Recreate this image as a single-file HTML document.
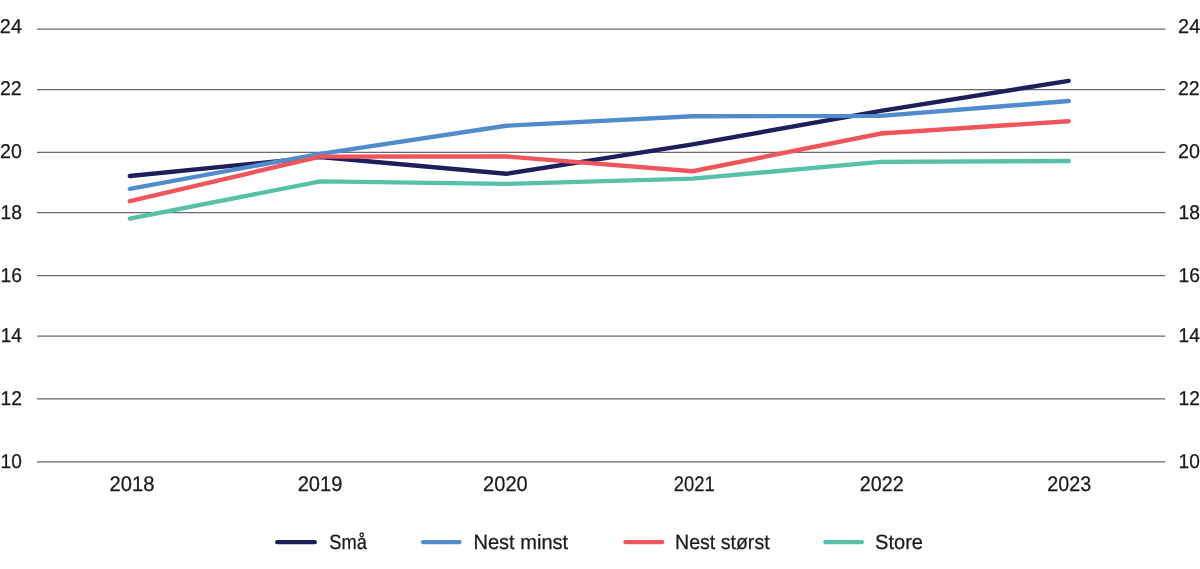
<!DOCTYPE html>
<html><head><meta charset="utf-8"><style>
html,body{margin:0;padding:0;background:#fff;width:1200px;height:569px;overflow:hidden}
svg{display:block;will-change:transform}
text{font-family:"Liberation Sans",sans-serif;fill:#1a1a1a;stroke:#1a1a1a;stroke-width:0.25px;text-rendering:geometricPrecision}
</style></head><body>
<svg width="1200" height="569" viewBox="0 0 1200 569">
<rect width="1200" height="569" fill="#fff"/>
<line x1="37" y1="29.06" x2="1165.3" y2="29.06" stroke="#6a6a6a" stroke-width="1.25"/>
<line x1="37" y1="89.5" x2="1165.3" y2="89.5" stroke="#6a6a6a" stroke-width="1.25"/>
<line x1="37" y1="152.3" x2="1165.3" y2="152.3" stroke="#6a6a6a" stroke-width="1.25"/>
<line x1="37" y1="212.65" x2="1165.3" y2="212.65" stroke="#6a6a6a" stroke-width="1.25"/>
<line x1="37" y1="275.5" x2="1165.3" y2="275.5" stroke="#6a6a6a" stroke-width="1.25"/>
<line x1="37" y1="336.2" x2="1165.3" y2="336.2" stroke="#6a6a6a" stroke-width="1.25"/>
<line x1="37" y1="398.8" x2="1165.3" y2="398.8" stroke="#6a6a6a" stroke-width="1.25"/>
<line x1="37" y1="461.95" x2="1165.3" y2="461.95" stroke="#6a6a6a" stroke-width="1.25"/>
<polyline points="129.80,176.00 320.20,157.00 506.20,173.80 692.70,144.40 880.90,110.80 1068.70,80.90" fill="none" stroke="#1e1e5a" stroke-width="4.4" stroke-linecap="round" stroke-linejoin="miter" stroke-miterlimit="10"/>
<polyline points="129.80,188.90 320.20,153.80 506.20,125.70 692.70,116.20 880.90,115.90 1068.70,101.00" fill="none" stroke="#508ccb" stroke-width="4.4" stroke-linecap="round" stroke-linejoin="miter" stroke-miterlimit="10"/>
<polyline points="129.80,201.20 320.20,156.60 506.20,156.50 692.70,171.20 880.90,133.50 1068.70,121.20" fill="none" stroke="#ef555b" stroke-width="4.4" stroke-linecap="round" stroke-linejoin="miter" stroke-miterlimit="10"/>
<polyline points="129.80,218.70 320.20,181.40 506.20,183.90 692.70,178.60 880.90,161.90 1068.70,161.00" fill="none" stroke="#57c0a9" stroke-width="4.4" stroke-linecap="round" stroke-linejoin="miter" stroke-miterlimit="10"/>
<line x1="277.20" y1="542.1" x2="314.80" y2="542.1" stroke="#1e1e5a" stroke-width="4.4" stroke-linecap="round"/>
<line x1="423.10" y1="542.1" x2="459.50" y2="542.1" stroke="#508ccb" stroke-width="4.4" stroke-linecap="round"/>
<line x1="625.40" y1="542.1" x2="662.10" y2="542.1" stroke="#ef555b" stroke-width="4.4" stroke-linecap="round"/>
<line x1="825.40" y1="542.1" x2="861.80" y2="542.1" stroke="#57c0a9" stroke-width="4.4" stroke-linecap="round"/>
<text x="-0.14" y="33.00" font-size="19.90" textLength="22.04" lengthAdjust="spacingAndGlyphs">24</text>
<text x="1178.10" y="33.00" font-size="19.90" textLength="22.09" lengthAdjust="spacingAndGlyphs">24</text>
<text x="-0.07" y="95.00" font-size="19.90" textLength="21.81" lengthAdjust="spacingAndGlyphs">22</text>
<text x="1177.95" y="95.00" font-size="19.90" textLength="21.72" lengthAdjust="spacingAndGlyphs">22</text>
<text x="0.02" y="158.00" font-size="19.90" textLength="21.79" lengthAdjust="spacingAndGlyphs">20</text>
<text x="1177.93" y="158.00" font-size="19.90" textLength="21.93" lengthAdjust="spacingAndGlyphs">20</text>
<text x="0.47" y="219.00" font-size="19.90" textLength="21.43" lengthAdjust="spacingAndGlyphs">18</text>
<text x="1178.58" y="219.00" font-size="19.90" textLength="21.44" lengthAdjust="spacingAndGlyphs">18</text>
<text x="0.51" y="282.00" font-size="19.90" textLength="21.43" lengthAdjust="spacingAndGlyphs">16</text>
<text x="1178.62" y="282.00" font-size="19.90" textLength="21.44" lengthAdjust="spacingAndGlyphs">16</text>
<text x="0.65" y="342.00" font-size="19.90" textLength="21.14" lengthAdjust="spacingAndGlyphs">14</text>
<text x="1178.52" y="342.00" font-size="19.90" textLength="21.22" lengthAdjust="spacingAndGlyphs">14</text>
<text x="0.57" y="405.00" font-size="19.90" textLength="21.43" lengthAdjust="spacingAndGlyphs">12</text>
<text x="1178.58" y="405.00" font-size="19.90" textLength="21.33" lengthAdjust="spacingAndGlyphs">12</text>
<text x="0.51" y="468.00" font-size="19.90" textLength="21.26" lengthAdjust="spacingAndGlyphs">10</text>
<text x="1178.58" y="468.00" font-size="19.90" textLength="21.25" lengthAdjust="spacingAndGlyphs">10</text>
<text x="109.48" y="491.00" font-size="21.20" textLength="44.89" lengthAdjust="spacingAndGlyphs">2018</text>
<text x="297.66" y="491.00" font-size="21.20" textLength="44.80" lengthAdjust="spacingAndGlyphs">2019</text>
<text x="483.09" y="491.00" font-size="21.20" textLength="44.61" lengthAdjust="spacingAndGlyphs">2020</text>
<text x="673.84" y="491.00" font-size="21.20" textLength="41.00" lengthAdjust="spacingAndGlyphs">2021</text>
<text x="859.75" y="491.00" font-size="21.20" textLength="43.85" lengthAdjust="spacingAndGlyphs">2022</text>
<text x="1047.34" y="491.00" font-size="21.20" textLength="43.84" lengthAdjust="spacingAndGlyphs">2023</text>
<text x="329.24" y="549.00" font-size="20.60" textLength="37.63" lengthAdjust="spacingAndGlyphs">Små</text>
<text x="473.46" y="549.00" font-size="20.60" textLength="94.73" lengthAdjust="spacingAndGlyphs">Nest minst</text>
<text x="675.00" y="549.00" font-size="20.60" textLength="94.62" lengthAdjust="spacingAndGlyphs">Nest størst</text>
<text x="875.04" y="549.00" font-size="20.60" textLength="48.02" lengthAdjust="spacingAndGlyphs">Store</text>
</svg></body></html>
